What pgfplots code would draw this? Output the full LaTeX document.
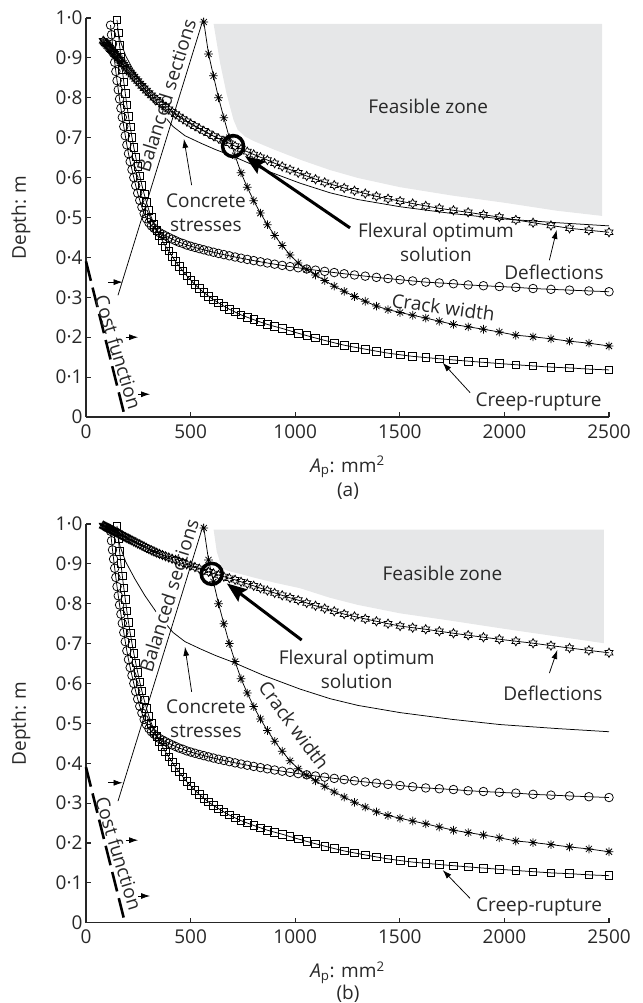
\documentclass[border=0pt]{standalone}
\usepackage{fontspec}
\setmainfont{Open Sans}
\usepackage{pgfplots}
\usepackage{pgfplotstable}
\pgfplotsset{compat=1.18}
\usetikzlibrary{arrows.meta}

\definecolor{zone}{RGB}{230,231,232}
\definecolor{txt}{RGB}{40,40,40}

% MATLAB-like markers: hexagram outline and 8-arm asterisk
\pgfdeclareplotmark{hexa}{%
  \pgfpathmoveto{\pgfpointpolar{90}{\pgfplotmarksize}}%
  \pgfpathlineto{\pgfpointpolar{120}{0.577\pgfplotmarksize}}%
  \pgfpathlineto{\pgfpointpolar{150}{\pgfplotmarksize}}%
  \pgfpathlineto{\pgfpointpolar{180}{0.577\pgfplotmarksize}}%
  \pgfpathlineto{\pgfpointpolar{210}{\pgfplotmarksize}}%
  \pgfpathlineto{\pgfpointpolar{240}{0.577\pgfplotmarksize}}%
  \pgfpathlineto{\pgfpointpolar{270}{\pgfplotmarksize}}%
  \pgfpathlineto{\pgfpointpolar{300}{0.577\pgfplotmarksize}}%
  \pgfpathlineto{\pgfpointpolar{330}{\pgfplotmarksize}}%
  \pgfpathlineto{\pgfpointpolar{0}{0.577\pgfplotmarksize}}%
  \pgfpathlineto{\pgfpointpolar{30}{\pgfplotmarksize}}%
  \pgfpathlineto{\pgfpointpolar{60}{0.577\pgfplotmarksize}}%
  \pgfpathclose
  \pgfusepathqstroke}
\pgfdeclareplotmark{ast8}{%
  \pgfpathmoveto{\pgfpointpolar{0}{\pgfplotmarksize}}\pgfpathlineto{\pgfpointpolar{180}{\pgfplotmarksize}}%
  \pgfpathmoveto{\pgfpointpolar{90}{\pgfplotmarksize}}\pgfpathlineto{\pgfpointpolar{270}{\pgfplotmarksize}}%
  \pgfpathmoveto{\pgfpointpolar{45}{\pgfplotmarksize}}\pgfpathlineto{\pgfpointpolar{225}{\pgfplotmarksize}}%
  \pgfpathmoveto{\pgfpointpolar{135}{\pgfplotmarksize}}\pgfpathlineto{\pgfpointpolar{315}{\pgfplotmarksize}}%
  \pgfusepathqstroke}

% A_p (mm2) and depth (m) of each constraint; defa/defb = deflections in (a)/(b)
\pgfplotstableread{
x      circ  sq    crk   defa  defb
2500   0.314 0.118 0.178 0.463 0.677
2403.8 0.316 0.120 0.185 0.468 0.683
2311.4 0.318 0.123 0.190 0.473 0.689
2222.5 0.320 0.125 0.196 0.480 0.695
2137.0 0.322 0.128 0.201 0.487 0.701
2054.8 0.325 0.131 0.205 0.494 0.706
1975.8 0.327 0.134 0.213 0.501 0.711
1899.8 0.329 0.137 0.220 0.507 0.716
1826.7 0.331 0.140 0.226 0.513 0.721
1756.5 0.334 0.143 0.232 0.518 0.726
1688.9 0.336 0.146 0.240 0.523 0.731
1623.9 0.338 0.149 0.248 0.529 0.736
1561.5 0.341 0.152 0.255 0.535 0.740
1501.4 0.344 0.156 0.262 0.541 0.744
1443.7 0.347 0.160 0.269 0.547 0.750
1388.2 0.350 0.165 0.278 0.553 0.756
1334.8 0.353 0.170 0.290 0.560 0.762
1283.4 0.356 0.175 0.302 0.567 0.768
1234.1 0.359 0.180 0.315 0.574 0.774
1186.6 0.362 0.186 0.328 0.581 0.781
1141.0 0.365 0.192 0.342 0.588 0.788
1097.1 0.368 0.198 0.356 0.596 0.795
1054.9 0.371 0.204 0.370 0.604 0.802
1014.3 0.374 0.210 0.386 0.612 0.809
975.3  0.377 0.216 0.406 0.620 0.815
937.8  0.380 0.222 0.430 0.628 0.821
901.7  0.383 0.227 0.455 0.636 0.827
867.0  0.386 0.232 0.482 0.644 0.833
833.7  0.389 0.238 0.511 0.651 0.839
801.6  0.392 0.244 0.542 0.658 0.845
770.8  0.395 0.250 0.576 0.665 0.850
741.1  0.398 0.256 0.612 0.672 0.855
712.6  0.401 0.263 0.655 0.679 0.860
685.2  0.404 0.270 0.700 0.686 0.864
658.9  0.407 0.278 0.750 0.692 0.868
633.5  0.410 0.286 0.800 0.698 0.872
609.2  0.413 0.294 0.855 0.704 0.876
585.7  0.416 0.303 0.910 0.711 0.880
563.2  0.419 0.312 0.990 0.717 0.884
541.5  0.422 0.322 nan   0.723 0.888
520.7  0.425 0.332 nan   0.729 0.892
500.7  0.428 0.343 nan   0.735 0.896
481.4  0.431 0.354 nan   0.741 0.899
462.9  0.435 0.366 nan   0.747 0.903
445.1  0.438 0.378 nan   0.753 0.906
428.0  0.442 0.390 nan   0.759 0.910
411.5  0.446 0.403 nan   0.765 0.913
395.7  0.450 0.416 nan   0.771 0.916
380.5  0.454 0.428 nan   0.777 0.919
365.8  0.458 0.441 nan   0.783 0.922
351.8  0.462 0.454 nan   0.789 0.925
338.2  0.467 0.468 nan   0.795 0.928
325.2  0.473 0.483 nan   0.800 0.931
312.7  0.479 0.500 nan   0.806 0.934
300.7  0.487 0.518 nan   0.812 0.937
289.1  0.497 0.538 nan   0.818 0.940
278.0  0.510 0.559 nan   0.824 0.943
267.3  0.526 0.581 nan   0.830 0.946
257.0  0.543 0.604 nan   0.836 0.949
247.1  0.561 0.628 nan   0.842 0.951
237.6  0.580 0.652 nan   0.847 0.954
228.5  0.600 0.676 nan   0.853 0.956
219.7  0.620 0.701 nan   0.858 0.959
211.2  0.640 0.727 nan   0.863 0.961
203.1  0.660 0.754 nan   0.868 0.963
195.3  0.682 0.782 nan   0.873 0.965
187.8  0.705 0.811 nan   0.878 0.967
180.6  0.728 0.840 nan   0.883 0.969
173.6  0.751 0.870 nan   0.887 0.971
166.9  0.774 0.901 nan   0.891 0.973
160.5  0.797 0.932 nan   0.895 0.975
154.3  0.820 0.963 nan   0.899 0.977
148.4  0.843 0.995 nan   0.903 0.978
142.7  0.866 nan   nan   0.906 0.980
137.2  0.889 nan   nan   0.910 0.981
131.9  0.912 nan   nan   0.913 0.983
126.8  0.935 nan   nan   0.916 0.984
122.0  0.958 nan   nan   0.919 0.985
117.3  0.982 nan   nan   0.922 0.987
112.8  nan   nan   nan   0.925 0.988
108.4  nan   nan   nan   0.928 0.989
104.2  nan   nan   nan   0.930 0.990
100.2  nan   nan   nan   0.933 0.991
96.4   nan   nan   nan   0.935 0.992
92.7   nan   nan   nan   0.937 0.993
89.1   nan   nan   nan   0.939 0.994
85.7   nan   nan   nan   0.941 0.995
82.4   nan   nan   nan   0.943 0.996
}\curves

% concrete stresses (no markers), same in both panels
\pgfplotstableread{
x    y
150  0.975
163  0.944
190  0.905
234  0.862
282  0.820
340  0.776
416  0.728
473  0.705
550  0.686
620  0.670
700  0.654
850  0.620
1023 0.586
1166 0.562
1300 0.545
1501 0.527
1750 0.510
1979 0.497
2250 0.487
2500 0.479
}\concrete

\pgfplotsset{
  panel/.style={
    width=523pt, height=399pt, scale only axis,
    xmin=0, xmax=2500, ymin=0, ymax=1,
    axis lines=left,
    axis line style={-, line width=1.1pt, black!85},
    tick style={line width=1.1pt, black!85},
    tick align=inside,
    major tick length=5pt,
    xtick={0,500,1000,1500,2000,2500},
    xticklabels={0,500,1000,1500,2000,2500},
    ytick={0,0.1,0.2,0.3,0.4,0.5,0.6,0.7,0.8,0.9,1},
    yticklabels={0,0·1,0·2,0·3,0·4,0·5,0·6,0·7,0·8,0·9,1·0},
    tick label style={font=\fontsize{19}{20}\selectfont, text=txt},
    xticklabel style={anchor=base, yshift=-21pt},
    yticklabel style={anchor=east},
    clip=false,
  },
  circ/.style={black, line width=0.75pt, mark=o, mark size=4.3pt},
  sqr/.style={black, line width=0.75pt, mark=square, mark size=3.8pt},
  crk/.style={black, line width=0.75pt, mark=ast8, mark size=4.3pt},
  hex/.style={black, line width=0.75pt, mark=hexa, mark size=4.6pt},
  thin/.style={black, line width=0.75pt},
}
\tikzset{
  lab/.style={font=\fontsize{19}{24}\selectfont, text=txt, align=center, inner sep=0pt},
  sarrow/.style={line width=0.75pt, -{Latex[length=9pt,width=6pt]}},
  barrow/.style={line width=3pt, -{Stealth[length=20pt,width=15pt,inset=3pt]}},
}

\begin{document}
\begin{tikzpicture}
\useasboundingbox (0pt,0pt) rectangle (642pt,-1003pt);

% ---------------- (a) ----------------
\begin{axis}[panel, at={(86pt,-417pt)}, anchor=south west]
\addplot[fill=zone, draw=none] coordinates {
  (610,0.985) (2467,0.985) (2467,0.504) (2250,0.517) (2000,0.537) (1750,0.555)
  (1501,0.576) (1300,0.599) (1166,0.619) (1023,0.645) (900,0.670) (800,0.692)
  (760,0.703) (725,0.720) (705,0.745) (672,0.810) (640,0.890)} -- cycle;
\addplot[circ] table[x=x, y=circ] {\curves};
\addplot[sqr] table[x=x, y=sq] {\curves};
\addplot[crk] table[x=x, y=crk] {\curves};
\addplot[hex] table[x=x, y=defa] {\curves};
\addplot[thin] table[x=x, y=y] {\concrete};
\node[lab, fill=white, rotate=72.7] at (383,0.805) {Balanced sections};
\addplot[thin] coordinates {(153,0.305) (562,1.0)};
\addplot[black, line width=2.6pt, dash pattern=on 20pt off 7pt] coordinates {(0,0.39) (186,0)};
\addplot[black, line width=3.5pt, mark=o, mark size=10.5pt, only marks] coordinates {(703,0.679)};
\node[lab, rotate=-73] at (155,0.163) {Cost function};
\draw[sarrow] (107,0.338) -- (175,0.338);
\draw[sarrow] (190,0.200) -- (249,0.200);
\draw[sarrow] (250,0.057) -- (306,0.057);
\node[lab] at (1636,0.779) {Feasible zone};
\node[lab] at (573,0.5125) {Concrete\\stresses};
\draw[sarrow] (505,0.581) -- (468,0.697);
\node[lab] at (1673,0.437) {Flexural optimum\\solution};
\draw[barrow] (1262,0.474) -- (760,0.654);
\node[lab] at (2237,0.363) {Deflections};
\draw[sarrow] (2215,0.393) -- (2250,0.469);
\node[lab, rotate=-8] at (1708,0.275) {Crack width};
\node[lab] at (2163,0.038) {Creep-rupture};
\draw[sarrow] (1836,0.061) -- (1705,0.136);
\end{axis}

% ---------------- (b) ----------------
\begin{axis}[panel, at={(86pt,-922.7pt)}, anchor=south west, height=398.7pt]
\addplot[fill=zone, draw=none] coordinates {
  (610,0.986) (2476,0.986) (2476,0.701) (2250,0.718) (2000,0.737) (1750,0.757)
  (1501,0.776) (1300,0.797) (1166,0.815) (1023,0.839) (900,0.853) (800,0.866)
  (728,0.876) (680,0.882) (650,0.889) (625,0.931)} -- cycle;
\addplot[circ] table[x=x, y=circ] {\curves};
\addplot[sqr] table[x=x, y=sq] {\curves};
\addplot[crk] table[x=x, y=crk] {\curves};
\addplot[hex] table[x=x, y=defb] {\curves};
\addplot[thin] table[x=x, y=y] {\concrete};
\node[lab, fill=white, rotate=72.7] at (396,0.820) {Balanced sections};
\addplot[thin] coordinates {(153,0.305) (562,1.0)};
\addplot[black, line width=2.6pt, dash pattern=on 20pt off 7pt] coordinates {(0,0.39) (186,0)};
\addplot[black, line width=3.5pt, mark=o, mark size=10.5pt, only marks] coordinates {(601,0.875)};
\node[lab, rotate=-73] at (157,0.174) {Cost function};
\draw[sarrow] (107,0.351) -- (175,0.351);
\draw[sarrow] (190,0.207) -- (249,0.207);
\draw[sarrow] (250,0.067) -- (306,0.067);
\node[lab] at (1704,0.875) {Feasible zone};
\node[lab] at (573,0.512) {Concrete\\stresses};
\draw[sarrow] (505,0.579) -- (473,0.692);
\node[lab] at (1294,0.636) {Flexural optimum\\solution};
\draw[barrow] (1031,0.709) -- (673,0.851);
\node[lab] at (2232,0.575) {Deflections};
\draw[sarrow] (2215,0.626) -- (2253,0.684);
\node[lab, rotate=-53.5] at (995,0.495) {Crack width};
\node[lab] at (2166,0.040) {Creep-rupture};
\draw[sarrow] (1836,0.061) -- (1705,0.132);
\end{axis}

% axis titles
\node[lab, rotate=90] at (21pt,-217.5pt) {Depth: m};
\node[lab, rotate=90] at (21pt,-723.3pt) {Depth: m};
\node[lab, anchor=base] at (347.5pt,-472pt) {{\itshape A}\textsubscript{p}: mm\textsuperscript{2}};
\node[lab, anchor=base] at (348pt,-496pt) {(a)};
\node[lab, anchor=base] at (347.5pt,-977.7pt) {{\itshape A}\textsubscript{p}: mm\textsuperscript{2}};
\node[lab, anchor=base] at (348pt,-999pt) {(b)};
\end{tikzpicture}
\end{document}
